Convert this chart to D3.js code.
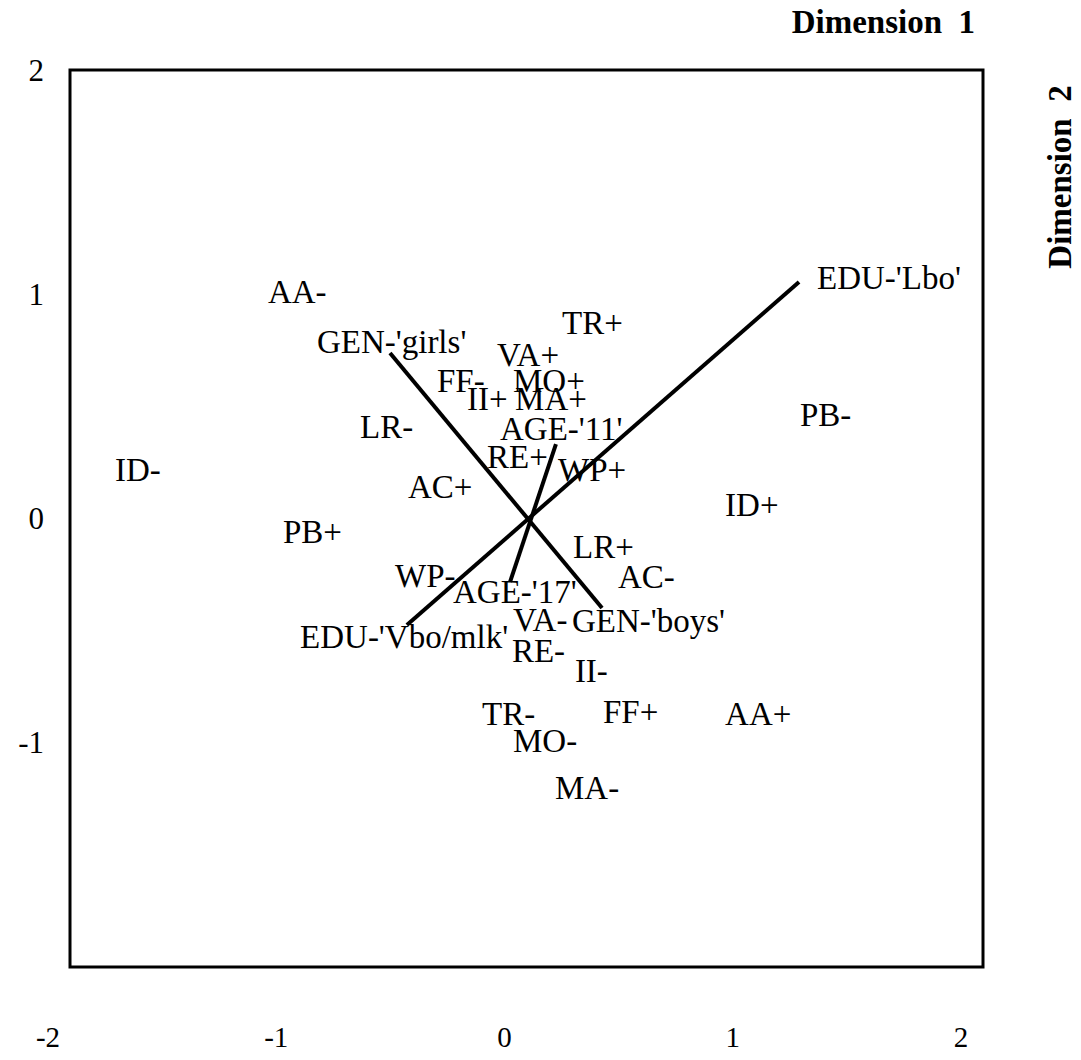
<!DOCTYPE html>
<html>
<head>
<meta charset="utf-8">
<script src="https://cdn.jsdelivr.net/npm/d3@7"></script>
<style>
  html, body { margin: 0; padding: 0; background: #fff; }
  svg { display: block; }
  text { font-family: "Liberation Serif", "Times New Roman", serif; fill: #000; }
</style>
</head>
<body>
<script>
// ---- data ----
const labelNames = ["AA-","TR+","GEN-'girls'","VA+","FF-","MO+","II+","MA+","LR-","AGE-'11'",
  "RE+","WP+","AC+","ID-","PB+","LR+","AC-","WP-","AGE-'17'","VA-","GEN-'boys'",
  "EDU-'Vbo/mlk'","RE-","II-","TR-","FF+","AA+","MO-","MA-","EDU-'Lbo'","PB-","ID+"];
const labelDim1 = [-1.133,0.156,-0.918,-0.129,-0.392,-0.059,-0.261,-0.050,-0.729,-0.116,
  -0.173,0.138,-0.519,-1.803,-1.067,0.204,0.401,-0.576,-0.322,-0.059,0.199,
  -0.992,-0.064,0.212,-0.195,0.335,0.870,-0.059,0.125,1.273,1.198,0.870];
const labelDim2 = [1.010,0.872,0.787,0.729,0.613,0.613,0.533,0.533,0.408,0.399,
  0.274,0.216,0.140,0.216,-0.060,-0.127,-0.261,-0.256,-0.328,-0.453,-0.457,
  -0.528,-0.591,-0.680,-0.872,-0.863,-0.872,-0.992,-1.201,1.072,0.462,0.060];

// vectors (line from end A through centre to end B)
const vectorNames = ["EDU","GEN","AGE"];
const vecA1 = [1.194, -0.598, 0.129];
const vecA2 = [1.055, 0.738, 0.332];
const vecB1 = [-0.524, 0.331, -0.072];
const vecB2 = [-0.475, -0.399, -0.283];

const xTicks = [-2, -1, 0, 1, 2];
const yTicks = [2, 1, 0, -1];
const xTitle = "Dimension\u00a0\u00a01";
const yTitle = "Dimension\u00a0\u00a02";

// ---- chart ----
const W = 1081, H = 1060;
const svg = d3.select("body").append("svg").attr("width", W).attr("height", H);

const x = d3.scaleLinear().domain([-2, 2]).range([70, 983]);
const y = d3.scaleLinear().domain([2, -2]).range([70, 967]);

// frame
svg.append("rect")
  .attr("x", x(-2)).attr("y", y(2))
  .attr("width", x(2) - x(-2)).attr("height", y(-2) - y(2))
  .attr("fill", "none").attr("stroke", "#000").attr("stroke-width", 3);

// x tick labels (below frame, shifted left as in the reference)
svg.append("g").selectAll("text").data(xTicks).join("text")
  .attr("x", d => x(d) - 22)
  .attr("y", 1037)
  .attr("text-anchor", "middle")
  .attr("dominant-baseline", "central")
  .attr("font-size", 29)
  .text(d => d);

// y tick labels
svg.append("g").selectAll("text").data(yTicks).join("text")
  .attr("x", 44)
  .attr("y", d => y(d))
  .attr("text-anchor", "end")
  .attr("dominant-baseline", "central")
  .attr("font-size", 31)
  .text(d => d);

// axis titles
svg.append("text")
  .attr("x", 975).attr("y", 33)
  .attr("text-anchor", "end")
  .attr("font-size", 33).attr("font-weight", "bold")
  .text(xTitle);

svg.append("text")
  .attr("transform", "translate(1071,177) rotate(-90)")
  .attr("text-anchor", "middle")
  .attr("font-size", 33).attr("font-weight", "bold")
  .text(yTitle);

// vector lines
svg.append("g").selectAll("line").data(vectorNames).join("line")
  .attr("x1", (d, i) => x(vecA1[i])).attr("y1", (d, i) => y(vecA2[i]))
  .attr("x2", (d, i) => x(vecB1[i])).attr("y2", (d, i) => y(vecB2[i]))
  .attr("stroke", "#000").attr("stroke-width", 4);

// category labels
svg.append("g").selectAll("text").data(labelNames).join("text")
  .attr("x", (d, i) => x(labelDim1[i]))
  .attr("y", (d, i) => y(labelDim2[i]))
  .attr("dominant-baseline", "central")
  .attr("font-size", 33)
  .text(d => d);
</script>
</body>
</html>
